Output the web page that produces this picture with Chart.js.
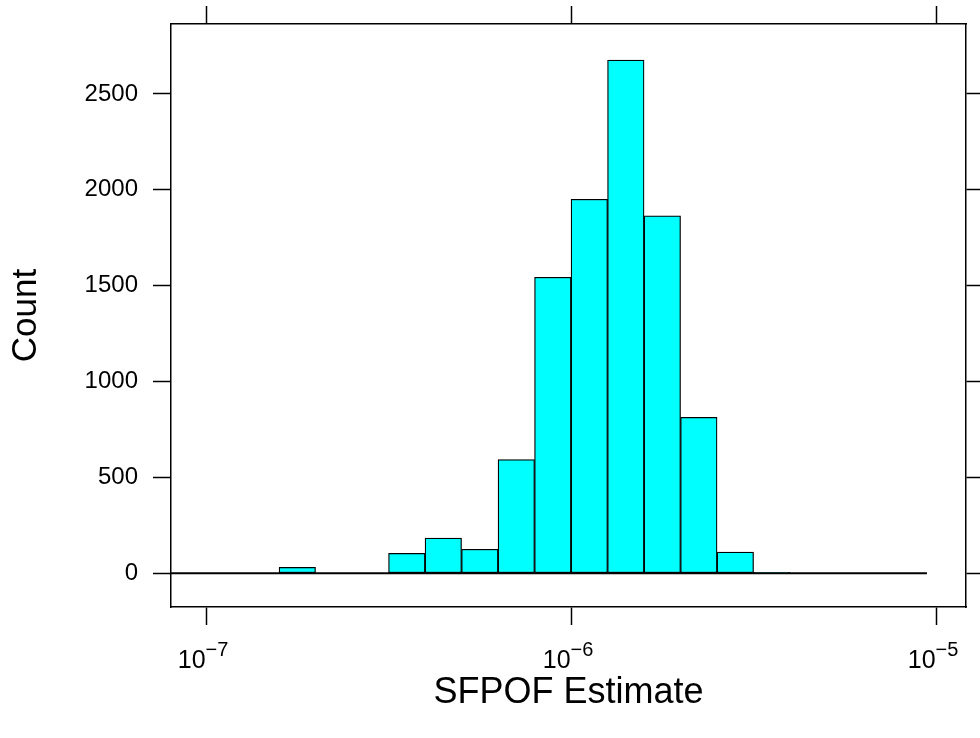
<!DOCTYPE html>
<html>
<head>
<meta charset="utf-8">
<script src="https://cdn.jsdelivr.net/npm/chart.js@4.4.1/dist/chart.umd.min.js"></script>
<style>
  html, body { margin: 0; padding: 0; background: #fff; }
  #c { display: block; }
</style>
</head>
<body>
<canvas id="c" width="980" height="738"></canvas>
<script>
// Histogram bins (log10 of SFPOF estimate), width 0.1 decade
const binCenters = [-7.05, -6.95, -6.85, -6.75, -6.65, -6.55, -6.45, -6.35, -6.25,
  -6.15, -6.05, -5.95, -5.85, -5.75, -5.65, -5.55, -5.45];
const binCounts = [0, 0, 0, 31, 0, 0, 104, 184, 125,
  593, 1544, 1951, 2677, 1865, 813, 110, 5];

// zero-height bins run along the baseline over this range
const baselineRange = [-7.1, -5.025];

const xTicks = [-7, -6, -5];
const yTicks = [0, 500, 1000, 1500, 2000, 2500];

const xLimits = [-7.096, -4.918];
const yLimits = [-176, 2865];

const FONT = "'Liberation Sans', Arial, Helvetica, sans-serif";
const INK = "#000";

function fixTicks(values) {
  return (scale) => {
    scale.ticks = values.map((v) => ({ value: v }));
  };
}

// pin axis box size so the panel lands where the reference has it
function fitTo(size) {
  return (scale) => {
    if (scale.isHorizontal()) {
      scale.height = size;
      scale.paddingLeft = 0;
      scale.paddingRight = 0;
    } else {
      scale.width = size;
      scale.paddingTop = 0;
      scale.paddingBottom = 0;
    }
  };
}

const gridOpts = {
  offset: false,
  drawOnChartArea: false,
  drawTicks: true,
  tickLength: 18,
  tickWidth: 1.5,
  tickColor: INK,
};
const borderOpts = { display: true, color: INK, width: 1.5 };

// x tick labels drawn as 10 with a raised exponent
const powerLabels = {
  id: "powerLabels",
  afterDraw(chart) {
    const ctx = chart.ctx;
    const xs = chart.scales.x;
    ctx.save();
    ctx.fillStyle = INK;
    ctx.textBaseline = "alphabetic";
    ctx.textAlign = "left";
    for (const t of xTicks) {
      const base = "10";
      const exp = "\u2212" + Math.abs(t);
      ctx.font = `25px ${FONT}`;
      const wb = ctx.measureText(base).width;
      ctx.font = `20px ${FONT}`;
      const we = ctx.measureText(exp).width;
      const x0 = xs.getPixelForValue(t) - (wb + we) / 2 - 3;
      const y0 = 668;
      ctx.font = `25px ${FONT}`;
      ctx.fillText(base, x0, y0);
      ctx.font = `20px ${FONT}`;
      ctx.fillText(exp, x0 + wb, y0 - 12);
    }
    ctx.restore();
  },
};

new Chart(document.getElementById("c"), {
  type: "bar",
  data: {
    datasets: [
      {
        type: "line",
        data: baselineRange.map((x) => ({ x, y: 0 })),
        borderColor: INK,
        borderWidth: 1.8,
        pointRadius: 0,
        order: 0,
      },
      {
        type: "bar",
        data: binCenters.map((x, i) => ({ x, y: binCounts[i] })),
        backgroundColor: "#00FFFF",
        borderColor: INK,
        borderWidth: 1.25,
        borderSkipped: false,
        barPercentage: 1,
        categoryPercentage: 1,
        order: 1,
      },
    ],
  },
  options: {
    responsive: false,
    animation: false,
    devicePixelRatio: 1,
    layout: { padding: 0 },
    plugins: { legend: { display: false }, tooltip: { enabled: false } },
    scales: {
      x: {
        type: "linear",
        position: "bottom",
        offset: false,
        min: xLimits[0],
        max: xLimits[1],
        afterBuildTicks: fixTicks(xTicks),
        afterFit: fitTo(131),
        grid: gridOpts,
        border: borderOpts,
        ticks: { callback: () => "", maxRotation: 0 },
        title: {
          display: true,
          text: "SFPOF Estimate",
          color: INK,
          font: { family: FONT, size: 36 },
          padding: { top: 0, bottom: 23 },
        },
      },
      xTop: {
        type: "linear",
        position: "top",
        offset: false,
        min: xLimits[0],
        max: xLimits[1],
        afterBuildTicks: fixTicks(xTicks),
        afterFit: fitTo(24),
        grid: gridOpts,
        border: borderOpts,
        ticks: { callback: () => "" },
      },
      y: {
        type: "linear",
        position: "left",
        min: yLimits[0],
        max: yLimits[1],
        afterBuildTicks: fixTicks(yTicks),
        afterFit: fitTo(171),
        grid: gridOpts,
        border: borderOpts,
        ticks: {
          color: INK,
          padding: 15,
          font: { family: FONT, size: 24 },
          callback: (v) => String(v),
        },
        title: {
          display: true,
          text: "Count",
          color: INK,
          font: { family: FONT, size: 35 },
          padding: { top: 5, bottom: 0 },
        },
      },
      yRight: {
        type: "linear",
        position: "right",
        min: yLimits[0],
        max: yLimits[1],
        afterBuildTicks: fixTicks(yTicks),
        afterFit: fitTo(14),
        grid: gridOpts,
        border: borderOpts,
        ticks: { callback: () => "" },
      },
    },
  },
  plugins: [powerLabels],
});
</script>
</body>
</html>
